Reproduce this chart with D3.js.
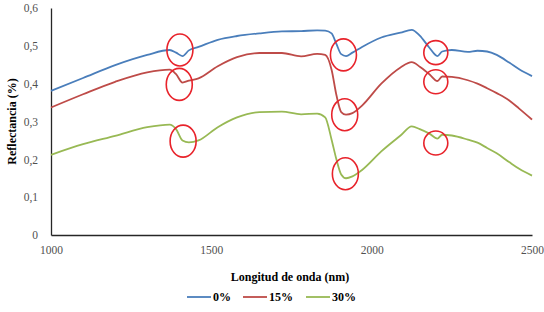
<!DOCTYPE html>
<html>
<head>
<meta charset="utf-8">
<script src="https://cdn.jsdelivr.net/npm/d3@7"></script>
<style>
  body { margin: 0; background: #fff; }
</style>
</head>
<body>
<div id="chart"></div>
<script>
// wavelength (nm)
var wavelengths = [1000, 1100, 1200, 1300, 1370, 1390, 1410, 1430, 1460, 1520, 1580, 1650, 1720, 1780, 1830, 1855,
    1875, 1890, 1905, 1920, 1940, 1970, 2030, 2090, 2125, 2150, 2180, 2205, 2220, 2250, 2300, 2330, 2360, 2390,
    2430, 2460, 2500];

var refl0 = [0.381, 0.415, 0.449, 0.476, 0.489, 0.482, 0.473, 0.488, 0.497, 0.516, 0.526, 0.533, 0.538, 0.539, 0.541, 0.540,
    0.533, 0.505, 0.478, 0.473, 0.482, 0.497, 0.522, 0.535, 0.542, 0.527, 0.495, 0.473, 0.485, 0.489, 0.484, 0.487, 0.485, 0.476,
    0.455, 0.438, 0.420];

var refl15 = [0.337, 0.372, 0.405, 0.430, 0.437, 0.425, 0.403, 0.408, 0.414, 0.446, 0.470, 0.481, 0.481, 0.472, 0.479, 0.476,
    0.437, 0.370, 0.325, 0.318, 0.322, 0.342, 0.400, 0.443, 0.457, 0.445, 0.425, 0.407, 0.419, 0.418, 0.409, 0.400, 0.388, 0.375,
    0.355, 0.334, 0.305];

var refl30 = [0.212, 0.240, 0.262, 0.285, 0.292, 0.280, 0.250, 0.245, 0.250, 0.285, 0.311, 0.325, 0.326, 0.319, 0.321, 0.311,
    0.252, 0.200, 0.160, 0.150, 0.155, 0.172, 0.221, 0.263, 0.287, 0.280, 0.268, 0.255, 0.265, 0.263, 0.252, 0.244, 0.230, 0.216,
    0.192, 0.175, 0.157];

var seriesNames = ["0%", "15%", "30%"];
var colors = ["#4a7ebb", "#be4b48", "#98b954"];

// absorption bands marked with red circles
var markNm = [1402, 1400, 1412, 1912, 1916, 1918, 2200, 2200, 2200];
var markVal = [0.489, 0.398, 0.248, 0.476, 0.318, 0.162, 0.482, 0.405, 0.243];

var xTicks = [1000, 1500, 2000, 2500];
var yTicks = [0, 0.1, 0.2, 0.3, 0.4, 0.5, 0.6];

var W = 544, H = 312;
var margin = {top: 8, right: 12, bottom: 77, left: 51};
var font = "'Liberation Serif', 'DejaVu Serif', serif";

var svg = d3.select("#chart").append("svg")
    .attr("width", W)
    .attr("height", H)
    .style("font-family", font);

var x = d3.scaleLinear().domain([1000, 2500]).range([margin.left, W - margin.right]);
var y = d3.scaleLinear().domain([0, 0.6]).range([H - margin.bottom, margin.top]);

// Y axis
var yAxis = svg.append("g")
    .attr("transform", "translate(" + margin.left + ",0)")
    .call(d3.axisLeft(y).tickValues(yTicks).tickSize(0).tickPadding(13)
        .tickFormat(function(d) { return d3.format(".1f")(d).replace(".", ",").replace(/^0,0$/, "0"); }));
yAxis.attr("font-family", font);
yAxis.select(".domain").attr("stroke", "#262626").attr("stroke-width", 1.3);
yAxis.selectAll("text").attr("font-size", 11.5).attr("fill", "#505050");

// X axis
var xAxis = svg.append("g")
    .attr("transform", "translate(0," + (H - margin.bottom) + ")")
    .call(d3.axisBottom(x).tickValues(xTicks).tickSize(0).tickPadding(11).tickFormat(d3.format("d")));
xAxis.attr("font-family", font);
xAxis.select(".domain").attr("stroke", "#262626").attr("stroke-width", 1.3);
xAxis.selectAll("text").attr("font-size", 11.5).attr("fill", "#505050");

// lines
var series = [refl0, refl15, refl30];
var line = d3.line()
    .x(function(d, i) { return x(wavelengths[i]); })
    .y(function(d) { return y(d); })
    .curve(d3.curveMonotoneX);

series.forEach(function(s, i) {
    svg.append("path")
        .datum(s)
        .attr("fill", "none")
        .attr("stroke", colors[i])
        .attr("stroke-width", 1.8)
        .attr("d", line);
});

// red circles
svg.selectAll("ellipse.mark")
    .data(markNm)
    .enter().append("ellipse")
    .attr("class", "mark")
    .attr("cx", function(d) { return x(d); })
    .attr("cy", function(d, i) { return y(markVal[i]); })
    .attr("rx", function(d) { return d > 2100 ? 12 : 13; })
    .attr("ry", function(d) { return d > 2100 ? 12 : 16; })
    .attr("fill", "none")
    .attr("stroke", "#e8232b")
    .attr("stroke-width", 1.6);

// axis titles
svg.append("text")
    .attr("x", 290)
    .attr("y", 281)
    .attr("text-anchor", "middle")
    .attr("font-size", 12)
    .attr("font-weight", "bold")
    .attr("fill", "#000")
    .text("Longitud de onda (nm)");

svg.append("text")
    .attr("transform", "translate(16," + y(0.3) + ") rotate(-90)")
    .attr("text-anchor", "middle")
    .attr("font-size", 12)
    .attr("font-weight", "bold")
    .attr("fill", "#000")
    .text("Reflectancia (%)");

// legend
var legendX = [187, 243, 306];
var legend = svg.selectAll("g.legend")
    .data(seriesNames)
    .enter().append("g")
    .attr("class", "legend")
    .attr("transform", function(d, i) { return "translate(" + legendX[i] + ",297)"; });
legend.append("line")
    .attr("x1", 0).attr("x2", 24)
    .attr("stroke", function(d, i) { return colors[i]; })
    .attr("stroke-width", 1.8);
legend.append("text")
    .attr("x", 26)
    .attr("dy", "0.35em")
    .attr("font-size", 12)
    .attr("font-weight", "bold")
    .attr("fill", "#000")
    .text(function(d) { return d; });
</script>
</body>
</html>
